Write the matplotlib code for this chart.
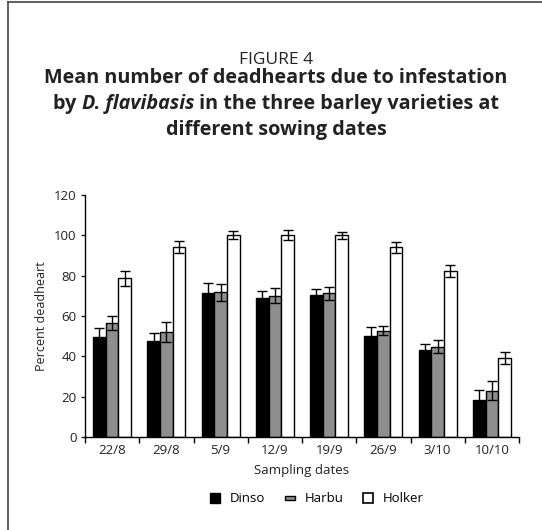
import numpy as np
import matplotlib.pyplot as plt
from matplotlib.lines import Line2D

plt.rcParams['font.family'] = ['Open Sans', 'DejaVu Sans']

dates = ['22/8', '29/8', '5/9', '12/9', '19/9', '26/9', '3/10', '10/10']
dinso = [49.5, 47.5, 71.3, 69.0, 70.3, 50.0, 43.0, 18.3]
harbu = [56.5, 52.2, 71.8, 70.0, 71.2, 52.8, 44.8, 22.9]
holker = [78.6, 94.0, 100.0, 100.0, 100.0, 94.0, 82.4, 39.3]
dinso_err = [4.6, 4.2, 5.0, 3.6, 3.3, 4.6, 3.3, 5.0]
harbu_err = [3.6, 5.0, 4.3, 3.7, 3.4, 2.0, 3.2, 4.8]
holker_err = [3.8, 3.0, 2.0, 2.5, 1.8, 2.6, 3.0, 3.0]

W, H = 542, 530
fig = plt.figure(figsize=(W / 100, H / 100), dpi=100)
txt = '#222222'

# frame line on left and top
fig.add_artist(Line2D([8 / W, 8 / W], [0, 1 - 2 / H], color='#444444', lw=1.2))
fig.add_artist(Line2D([8 / W, 1], [1 - 2 / H, 1 - 2 / H], color='#444444', lw=1.2))

cx = 276 / W
tsize = 14.2
fig.text(cx, 1 - 60 / H, 'FIGURE 4', ha='center', va='center', fontsize=12.5, color=txt)
fig.text(cx, 1 - 78 / H, 'Mean number of deadhearts due to infestation',
         ha='center', va='center', fontsize=tsize, fontweight='bold', color=txt)
fig.text(cx, 1 - 130 / H, 'different sowing dates',
         ha='center', va='center', fontsize=tsize, fontweight='bold', color=txt)

# second title line has the species name in italics, built from pieces
pieces = [('by ', 'normal'), ('D. flavibasis', 'italic'),
          (' in the three barley varieties at', 'normal')]
renderer = fig.canvas.get_renderer()
objs = []
for s, style in pieces:
    t = fig.text(0, 1 - 104 / H, s, ha='left', va='center', fontsize=tsize,
                 fontweight='bold', fontstyle=style, color=txt)
    objs.append(t)
widths = [t.get_window_extent(renderer).width / W for t in objs]
xpos = cx - sum(widths) / 2
for t, w in zip(objs, widths):
    t.set_x(xpos)
    xpos += w

ax = fig.add_axes([85 / W, (H - 437) / H, (519 - 85) / W, (437 - 195) / H])

x = np.arange(len(dates))
bw = 0.234
ekw = dict(ecolor='black', elinewidth=1, capsize=3.5, capthick=1)
ax.bar(x - bw, dinso, bw, color='black', edgecolor='black', lw=1,
       yerr=dinso_err, error_kw=ekw, label='Dinso')
ax.bar(x, harbu, bw, color='#8e8e8e', edgecolor='black', lw=1,
       yerr=harbu_err, error_kw=ekw, label='Harbu')
ax.bar(x + bw, holker, bw, color='white', edgecolor='black', lw=1,
       yerr=holker_err, error_kw=ekw, label='Holker')

ax.set_xlim(-0.5, len(dates) - 0.5)
ax.set_ylim(0, 120)
ax.set_yticks(range(0, 121, 20))
ax.tick_params(axis='y', labelsize=9.5, length=3, width=1, pad=3, colors=txt)

# boundary ticks between dates, labels at the centres
ax.set_xticks(np.arange(-0.5, len(dates), 1))
ax.set_xticklabels([])
ax.set_xticks(x, minor=True)
ax.set_xticklabels(dates, minor=True, fontsize=9.5, color=txt)
ax.tick_params(axis='x', which='major', length=4, width=1)
ax.tick_params(axis='x', which='minor', length=0, pad=5)

for s in ['top', 'right']:
    ax.spines[s].set_visible(False)
ax.spines['left'].set_linewidth(1)
ax.spines['bottom'].set_linewidth(1)

ax.set_ylabel('Percent deadheart', fontsize=9, color=txt, labelpad=4)
ax.set_xlabel('Sampling dates', fontsize=9.5, color=txt, labelpad=5)

flat = [(-1, -0.5), (1, -0.5), (1, 0.5), (-1, 0.5), (-1, -0.5)]
handles = [
    Line2D([], [], ls='', marker='s', ms=6.5, mfc='black', mec='black'),
    Line2D([], [], ls='', marker=flat, ms=7, mfc='#8e8e8e', mec='black'),
    Line2D([], [], ls='', marker='s', ms=6.5, mfc='white', mec='black', mew=1.2),
]
fig.legend(handles, ['Dinso', 'Harbu', 'Holker'], loc='center',
           bbox_to_anchor=(316 / W, 1 - 499 / H), ncol=3, frameon=False,
           fontsize=9.5, handlelength=1, handletextpad=0.6, columnspacing=1.4)

fig.savefig('out.png', dpi=100)
